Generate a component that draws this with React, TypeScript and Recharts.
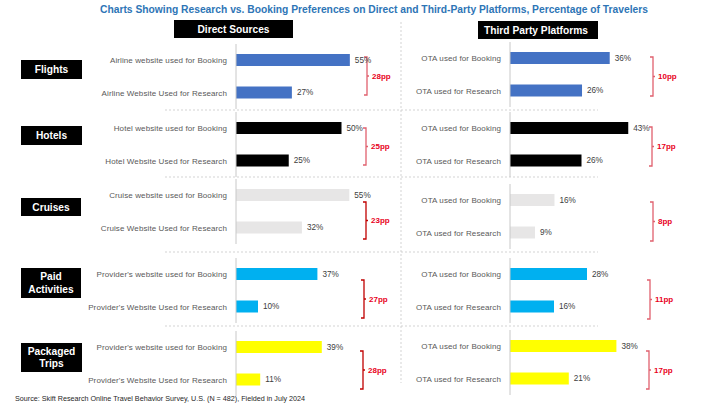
import React from 'react';
import { BarChart, Bar, XAxis, YAxis, LabelList } from 'recharts';

// ---------- data ----------
const groupNames = ['Flights', 'Hotels', 'Cruises', 'Paid\nActivities', 'Packaged\nTrips'];
const directLabels = [
  ['Airline website used for Booking', 'Airline Website Used for Research'],
  ['Hotel website used for Booking', 'Hotel Website Used for Research'],
  ['Cruise website used for Booking', 'Cruise Website Used for Research'],
  ["Provider's website used for Booking", "Provider's Website Used for Research"],
  ["Provider's website used for Booking", "Provider's Website Used for Research"],
];
const directValues = [
  [55, 27],
  [50, 25],
  [55, 32],
  [37, 10],
  [39, 11],
];
const otaLabels = ['OTA used for Booking', 'OTA used for Research'];
const otaValues = [
  [36, 26],
  [43, 26],
  [16, 9],
  [28, 16],
  [38, 21],
];
const directGaps = ['28pp', '25pp', '23pp', '27pp', '28pp'];
const otaGaps = ['10pp', '17pp', '8pp', '11pp', '17pp'];
const titleText =
  'Charts Showing Research vs. Booking Preferences on Direct and Third-Party Platforms, Percentage of Travelers';
const panelTitles = ['Direct Sources', 'Third Party Platforms'];
const sourceText =
  'Source: Skift Research Online Travel Behavior Survey, U.S. (N = 482), Fielded in July 2024';

// ---------- styles / layout ----------
const barColors = ['#4472C4', '#000000', '#E7E6E6', '#00B0F0', '#FFFF00'];
const leftTops = [44, 112, 179, 258, 331];
const rightTops = [42, 112, 184, 258, 330];
const leftPxPerPct = [2.07, 2.11, 2.06, 2.2, 2.2];
const rightPxPerPct = [2.77, 2.75, 2.78, 2.75, 2.8];
const leftBrackets = [
  [367, 57, 95],
  [366, 128, 165],
  [366, 202, 239],
  [364, 280, 318],
  [363, 351, 389],
];
const rightBrackets = [
  [653, 57, 96],
  [652, 127, 166],
  [653, 202, 241],
  [650, 280, 319],
  [649, 351, 389],
];
const leftBracketColors = ['#E0606E', '#E0606E', '#C00000', '#C00000', '#C00000'];
const groupBoxes = [
  [21, 60, 61, 19],
  [21, 126, 61, 19],
  [21, 198, 60, 18],
  [21, 268, 60, 30],
  [21, 343, 61, 29],
];
const separatorsY = [110, 177, 252, 326];
const FONT = '"Liberation Sans", Arial, sans-serif';

const ROW_H = 65;
const PLOT_W = 130;

type MiniProps = {
  labels: string[];
  values: number[];
  color: string;
  left: number;
  top: number;
  yw: number;
  pxPerPct: number;
};

const Tick = (props: any) => {
  const { x, y, payload } = props;
  return (
    <text
      x={x - 9}
      y={y}
      dy="0.35em"
      textAnchor="end"
      fontSize={8}
      letterSpacing={0.1}
      fill="#595959"
      fontFamily={FONT}
    >
      {payload.value}
    </text>
  );
};

function MiniChart({ labels, values, color, left, top, yw, pxPerPct }: MiniProps) {
  const data = labels.map((name, i) => ({ name, value: values[i] }));
  const domainMax = PLOT_W / pxPerPct;
  return (
    <div style={{ position: 'absolute', left, top }}>
      <BarChart
        width={yw + PLOT_W + 30}
        height={ROW_H}
        data={data}
        layout="vertical"
        margin={{ top: 0, right: 30, bottom: 0, left: 0 }}
      >
        <XAxis type="number" domain={[0, domainMax]} hide allowDataOverflow />
        <YAxis
          type="category"
          dataKey="name"
          width={yw}
          axisLine={{ stroke: '#C8C8C8' }}
          tickLine={false}
          tickSize={0}
          tickMargin={0}
          tick={<Tick />}
          interval={0}
        />
        <Bar dataKey="value" fill={color} barSize={12} isAnimationActive={false}>
          <LabelList
            dataKey="value"
            position="right"
            offset={5}
            formatter={(v: any) => `${v}%`}
            style={{ fontSize: 8.2, fill: '#404040', fontFamily: FONT }}
          />
        </Bar>
      </BarChart>
    </div>
  );
}

function Bracket({ b, color, label }: { b: number[]; color: string; label: string }) {
  const [x, y1, y2] = b;
  const ym = (y1 + y2) / 2;
  return (
    <g>
      <path
        d={`M${x - 3},${y1} L${x},${y1} L${x},${y2} L${x - 3},${y2} M${x},${ym} L${x + 2},${ym}`}
        stroke={color}
        strokeWidth={1.3}
        fill="none"
      />
      <text x={x + 5} y={ym} dy="0.35em" fontSize={8} fontWeight="bold" fill="#E8001C" fontFamily={FONT}>
        {label}
      </text>
    </g>
  );
}

export default function App() {
  return (
    <div style={{ position: 'absolute', left: 0, top: 0, width: 720, height: 405, background: '#fff', overflow: 'hidden' }}>
      <svg width={720} height={405} style={{ position: 'absolute', left: 0, top: 0 }}>
        <text
          x={374}
          y={12.5}
          textAnchor="middle"
          fontSize={10.5}
          fontWeight="bold"
          fill="#2E75B6"
          fontFamily={FONT}
          textLength={548}
          lengthAdjust="spacingAndGlyphs"
        >
          {titleText}
        </text>
        <rect x={174} y={20} width={119} height={18} fill="#000" />
        <text x={233.5} y={29} dy="0.35em" textAnchor="middle" fontSize={10.5} fontWeight="bold" fill="#fff" fontFamily={FONT} textLength={72} lengthAdjust="spacingAndGlyphs">
          {panelTitles[0]}
        </text>
        <rect x={478} y={21} width={120} height={18} fill="#000" />
        <text x={536} y={30} dy="0.35em" textAnchor="middle" fontSize={10.5} fontWeight="bold" fill="#fff" fontFamily={FONT} textLength={104} lengthAdjust="spacingAndGlyphs">
          {panelTitles[1]}
        </text>
        <line x1={401} y1={22} x2={401} y2={383} stroke="#C8C8C8" strokeWidth={0.8} strokeDasharray="2 2" />
        {separatorsY.map((y) => (
          <line key={y} x1={165} y1={y} x2={598} y2={y} stroke="#C8C8C8" strokeWidth={0.8} strokeDasharray="2 2" />
        ))}
        {groupNames.map((g, i) => {
          const [bx, by, bw, bh] = groupBoxes[i];
          const lines = g.split('\n');
          const cy = by + bh / 2;
          return (
            <g key={g}>
              <rect x={bx} y={by} width={bw} height={bh} fill="#000" />
              {lines.map((ln, j) => (
                <text
                  key={ln}
                  x={bx + bw / 2}
                  y={cy + (j - (lines.length - 1) / 2) * 12.5}
                  dy="0.36em"
                  textAnchor="middle"
                  fontSize={10.2}
                  fontWeight="bold"
                  fill="#fff"
                  fontFamily={FONT}
                >
                  {ln}
                </text>
              ))}
            </g>
          );
        })}
        {leftBrackets.map((b, i) => (
          <Bracket key={`l${i}`} b={b} color={leftBracketColors[i]} label={directGaps[i]} />
        ))}
        {rightBrackets.map((b, i) => (
          <Bracket key={`r${i}`} b={b} color="#E0606E" label={otaGaps[i]} />
        ))}
        <text x={15} y={398} dy="0.35em" fontSize={7.2} fill="#262626" fontFamily={FONT}>
          {sourceText}
        </text>
      </svg>
      {directValues.map((vals, i) => (
        <MiniChart
          key={`d${i}`}
          labels={directLabels[i]}
          values={vals}
          color={barColors[i]}
          left={60}
          top={leftTops[i]}
          yw={176}
          pxPerPct={leftPxPerPct[i]}
        />
      ))}
      {otaValues.map((vals, i) => (
        <MiniChart
          key={`o${i}`}
          labels={otaLabels}
          values={vals}
          color={barColors[i]}
          left={400}
          top={rightTops[i]}
          yw={110}
          pxPerPct={rightPxPerPct[i]}
        />
      ))}
    </div>
  );
}
